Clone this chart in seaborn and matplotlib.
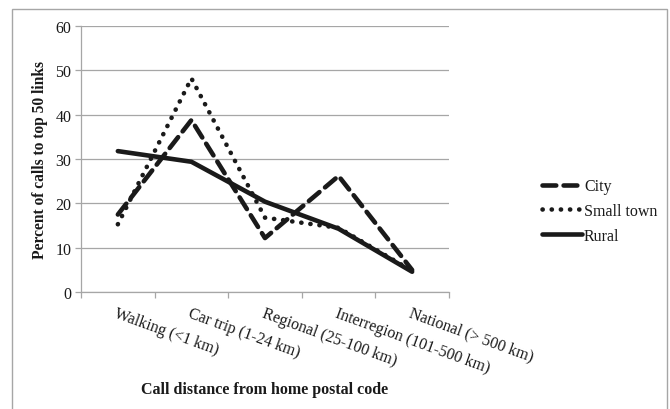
import matplotlib
matplotlib.use("Agg")
import matplotlib.pyplot as plt
import seaborn as sns
import pandas as pd
from matplotlib.patches import Rectangle
from matplotlib.ticker import FixedLocator, NullFormatter

categories = ["Walking (<1 km)", "Car trip (1-24 km)", "Regional (25-100 km)",
              "Interregion (101-500 km)", "National (> 500 km)"]
city = [17.5, 38.8, 12.2, 26.2, 5.0]
small_town = [15.3, 48.2, 16.8, 14.5, 4.8]
rural = [31.8, 29.4, 20.4, 14.3, 4.6]
series_names = ["City", "Small town", "Rural"]

df = pd.DataFrame({
    "category": categories * 3,
    "pos": list(range(len(categories))) * 3,
    "value": city + small_town + rural,
    "series": [series_names[0]] * 5 + [series_names[1]] * 5 + [series_names[2]] * 5,
})

sns.set_theme(style="white")
plt.rcParams["font.family"] = ["Liberation Serif", "DejaVu Serif"]

fig = plt.figure(figsize=(6.7, 4.1), dpi=100)
ax = fig.add_axes([0.121, 0.285, 0.549, 0.649])

# outer chart border
fig.patches.append(Rectangle((12 / 670, -0.05), 655 / 670, 1.05 - 10 / 410,
                             transform=fig.transFigure, fill=False,
                             edgecolor="#a6a6a6", linewidth=1.0))

styles = {
    "City": dict(dashes=(3.0, 1.6), dash_capstyle="round"),
    "Small town": dict(dashes=(0.05, 1.95), dash_capstyle="round"),
    "Rural": dict(),
}
for name in series_names:
    sub = df[df["series"] == name]
    line_kw = styles[name]
    sns.lineplot(data=sub, x="pos", y="value", ax=ax, color="#1a1a1a",
                 linewidth=3.3, label=name, solid_capstyle="round", **line_kw)

ax.set_xlim(-0.5, len(categories) - 0.5)
ax.set_ylim(0, 60)
ax.set_yticks(range(0, 61, 10))
ax.yaxis.grid(True, color="#a6a6a6", linewidth=0.9)
ax.set_axisbelow(True)

ax.xaxis.set_major_locator(FixedLocator([i - 0.5 for i in range(len(categories) + 1)]))
ax.xaxis.set_major_formatter(NullFormatter())
ax.xaxis.set_minor_locator(FixedLocator(list(range(len(categories)))))
ax.set_xticklabels(categories, minor=True, rotation=-20, ha="left", va="top",
                   rotation_mode="anchor", fontsize=11.5, color="#1a1a1a")
ax.tick_params(axis="x", which="minor", length=0, pad=9)
ax.tick_params(axis="x", which="major", length=4, color="#a6a6a6", width=0.9, direction="out", bottom=True)
ax.tick_params(axis="y", length=4, color="#a6a6a6", width=0.9, direction="out", left=True,
               labelsize=11.5, labelcolor="#1a1a1a", pad=3)

for side in ["top", "right"]:
    ax.spines[side].set_visible(False)
for side in ["left", "bottom"]:
    ax.spines[side].set_color("#a6a6a6")
    ax.spines[side].set_linewidth(0.9)

ax.set_xlabel("Call distance from home postal code", fontsize=11.5, fontweight="bold",
              color="#1a1a1a")
ax.xaxis.set_label_coords(0.5, -0.335)
ax.set_ylabel("Percent of calls to top 50 links", fontsize=11.2, fontweight="bold",
              color="#1a1a1a")
ax.yaxis.set_label_coords(-0.09, 0.5)

leg = ax.legend(loc="center left", bbox_to_anchor=(1.215, 0.305), frameon=False,
                fontsize=11.5, handlelength=2.5, handletextpad=0.1, labelspacing=0.55)
for t in leg.get_texts():
    t.set_color("#1a1a1a")

fig.savefig("out.png", dpi=100)
